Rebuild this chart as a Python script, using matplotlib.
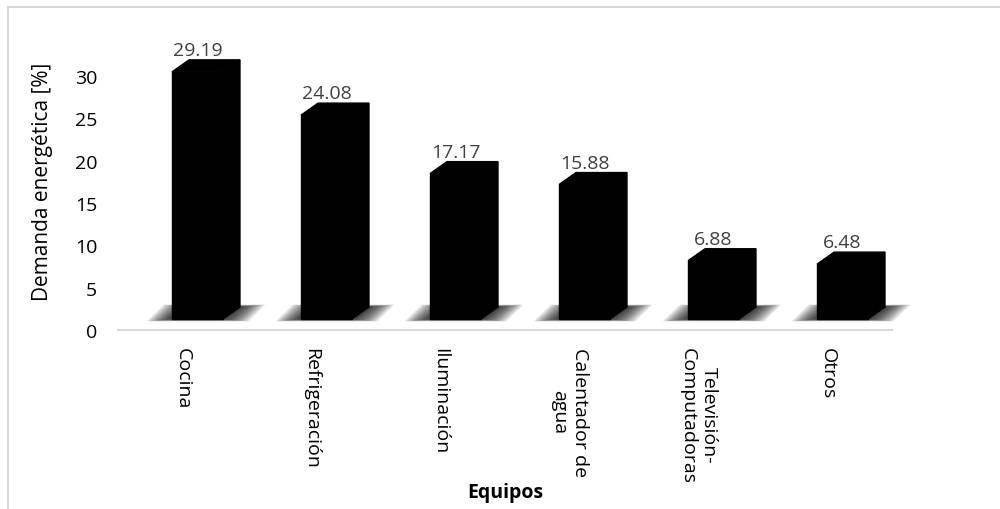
import numpy as np
import matplotlib.pyplot as plt
from matplotlib.patches import Polygon, Rectangle
from matplotlib.transforms import ScaledTranslation

plt.rcParams['font.family'] = ['Open Sans', 'DejaVu Sans']

# Demanda energética por equipo [%]
equipos = ['Cocina', 'Refrigeración', 'Iluminación', 'Calentador de\nagua',
           'Televisión-\nComputadoras', 'Otros']
demanda = [29.19, 24.08, 17.17, 15.88, 6.88, 6.48]
yticks = [0, 5, 10, 15, 20, 25, 30]

fig = plt.figure(figsize=(10, 5.1), dpi=100)
ax = fig.add_axes([0.118, 0.351, 0.774, 0.498])
n = len(equipos)
x = np.arange(n)
ax.set_xlim(-0.5, n - 0.5)
ax.set_ylim(0, 30)

# size of one pixel in data units (fixed figure size)
px_x = n / 774.0
px_y = 30 / 254.0

# columns sit a little behind/above the axis line, like a 3D floor
off = ax.transData + ScaledTranslation(0.15, 0.11, fig.dpi_scale_trans)

w = 0.395
dx, dy = 17 * px_x, 12 * px_y

for xi, v in zip(x, demanda):
    x0, x1 = xi - w / 2, xi + w / 2

    # soft shadow on the floor
    for k in range(16, 0, -1):
        g = k * 1.6 * px_x
        gy = k * 0.15 * px_y
        shadow = Polygon([(x0 - g, -gy), (x1 + g, -gy),
                          (x1 + dx + g, dy + gy), (x0 + dx - g, dy + gy)],
                         closed=True, facecolor='black', edgecolor='none',
                         alpha=0.08, transform=off, zorder=1, clip_on=False)
        ax.add_patch(shadow)

    # front face
    ax.bar(xi, v, width=w, bottom=0, color='black', edgecolor='black',
           linewidth=1.0, transform=off, zorder=3, clip_on=False)
    # top face
    top = Polygon([(x0, v), (x0 + dx, v + dy), (x1 + dx, v + dy), (x1, v)],
                  closed=True, facecolor='black', edgecolor='black',
                  linewidth=1.0, transform=off, zorder=3, clip_on=False)
    ax.add_patch(top)
    # side face
    side = Polygon([(x1, v), (x1 + dx, v + dy), (x1 + dx, dy), (x1, 0)],
                   closed=True, facecolor='black', edgecolor='black',
                   linewidth=1.0, transform=off, zorder=3, clip_on=False)
    ax.add_patch(side)

    ax.annotate(f'{v:.2f}', xy=(xi, v), xycoords=off, xytext=(0, 17),
                textcoords='offset pixels', ha='center', va='baseline',
                fontsize=14, color='#404040', zorder=4)

for s in ['top', 'right', 'left']:
    ax.spines[s].set_visible(False)
ax.spines['bottom'].set_color('#d9d9d9')
ax.spines['bottom'].set_linewidth(1.5)
ax.spines['bottom'].set_zorder(0)

ax.set_yticks(yticks)
ax.tick_params(axis='y', length=0, pad=15, labelsize=14, labelcolor='black')
ax.set_xticks(x)
ax.set_xticklabels(equipos, rotation=270, multialignment='center', fontsize=14)
ax.tick_params(axis='x', length=0, pad=12)

fig.text(0.043, 1 - 182 / 510, 'Demanda energética [%]', rotation=90,
         ha='center', va='center', fontsize=15)
fig.text(0.505, 1 - 493 / 510, 'Equipos', ha='center', va='center',
         fontsize=14, fontweight='bold')

# chart area border
fig.patches.append(Rectangle((0.008, -0.2), 1.2, 1.2 - 8 / 510, fill=False,
                             edgecolor='#d9d9d9', linewidth=1.5,
                             transform=fig.transFigure, figure=fig))

fig.savefig('out.png', dpi=100)
